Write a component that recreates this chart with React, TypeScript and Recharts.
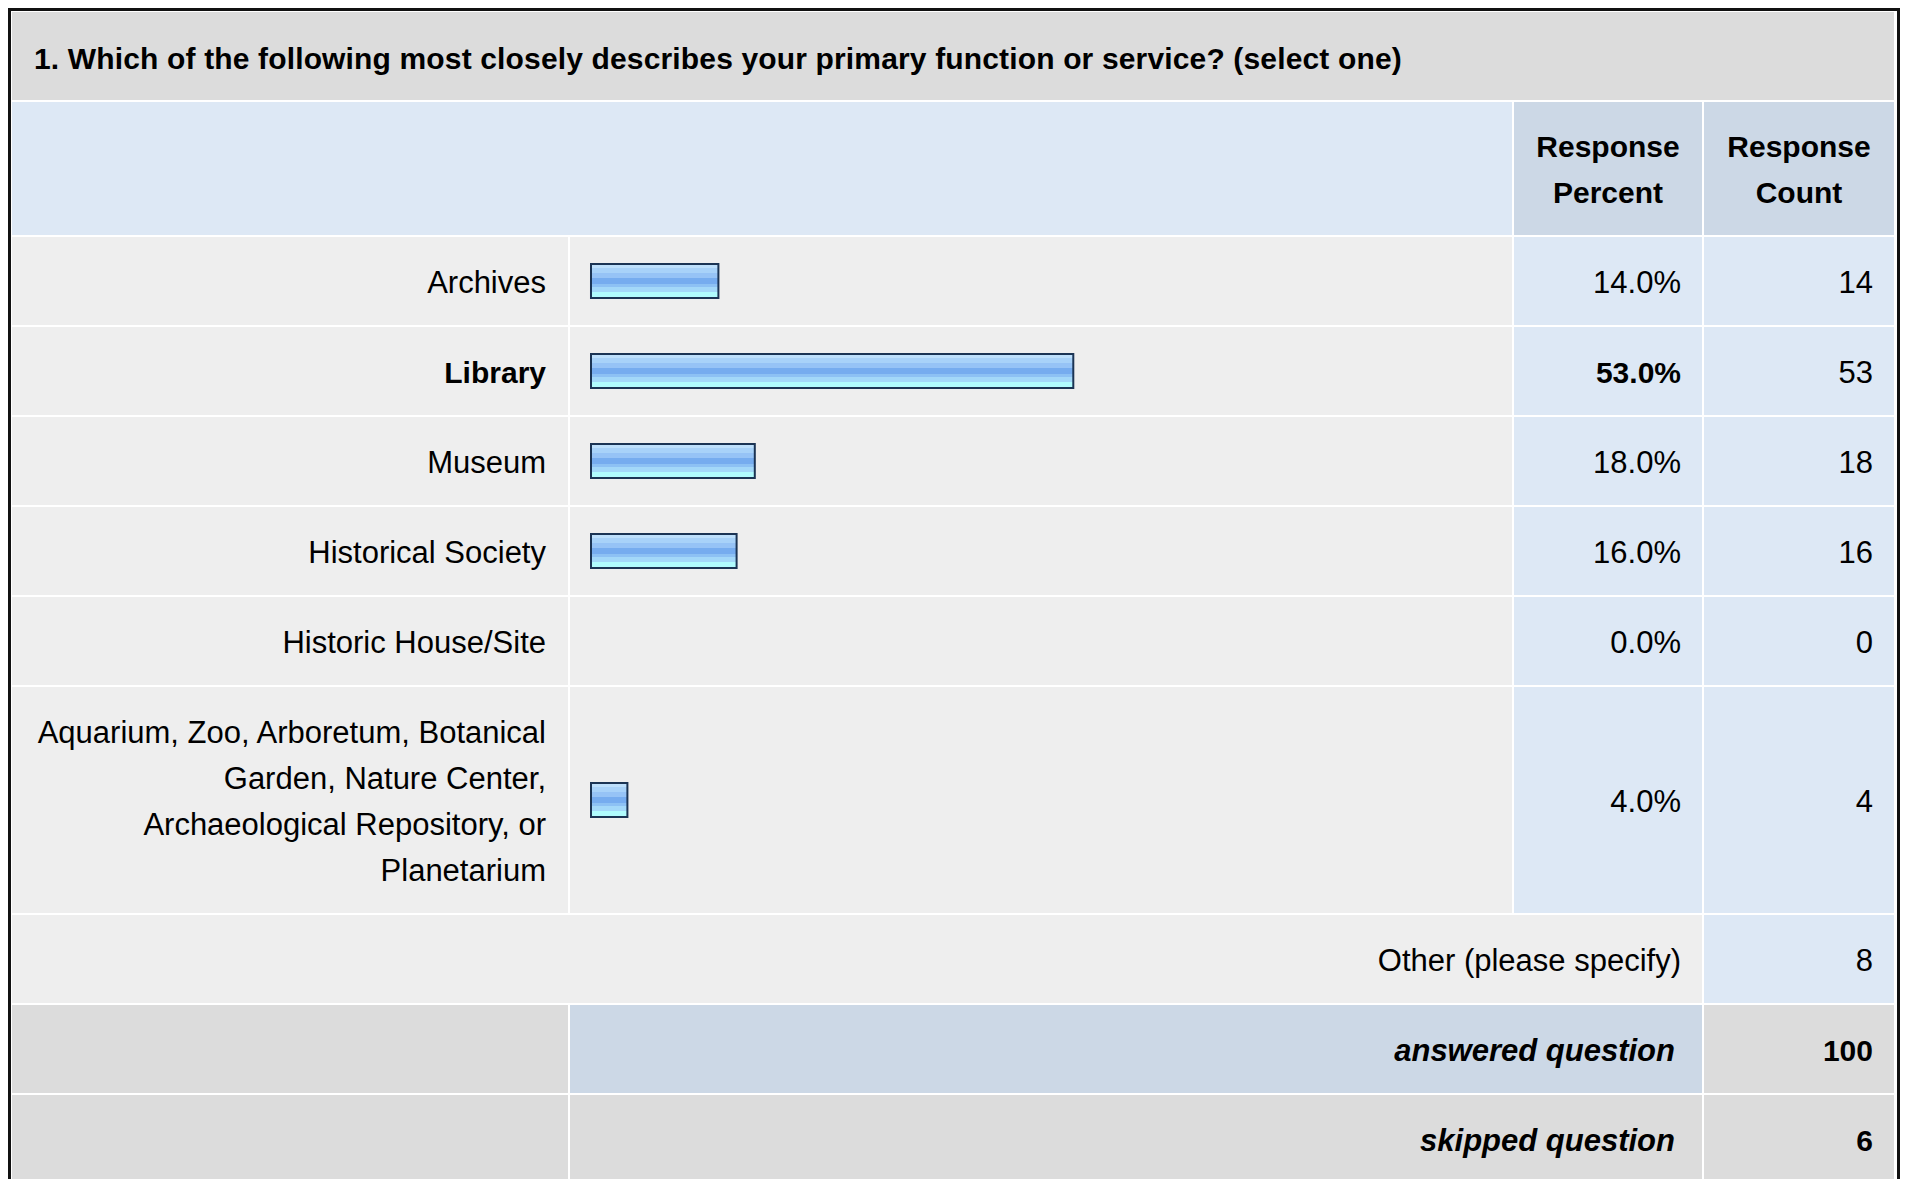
import React from "react";
import { BarChart, Bar, XAxis, YAxis } from "recharts";

const title = "1. Which of the following most closely describes your primary function or service? (select one)";
const headerPercent = ["Response", "Percent"];
const headerCount = ["Response", "Count"];
const categories = [
  "Archives",
  "Library",
  "Museum",
  "Historical Society",
  "Historic House/Site",
  "Aquarium, Zoo, Arboretum, Botanical Garden, Nature Center, Archaeological Repository, or Planetarium",
];
const categoryLines = [
  ["Archives"],
  ["Library"],
  ["Museum"],
  ["Historical Society"],
  ["Historic House/Site"],
  ["Aquarium, Zoo, Arboretum, Botanical", "Garden, Nature Center,", "Archaeological Repository, or", "Planetarium"],
];
const percents = [14.0, 53.0, 18.0, 16.0, 0.0, 4.0];
const counts = [14, 53, 18, 16, 0, 4];
const otherLabel = "Other (please specify)";
const otherCount = 8;
const answeredLabel = "answered question";
const answeredCount = 100;
const skippedLabel = "skipped question";
const skippedCount = 6;

const FONT = "'Liberation Sans', Arial, Helvetica, sans-serif";

// layout (relative to inner box)
const L0 = 1, L1 = 557;
const B0 = 559, B1 = 1501;
const P0 = 1503, P1 = 1691;
const C0 = 1693, C1 = 1883;
const GAP = 2;
const TITLE_TOP = 1, TITLE_H = 88;
const HEAD_TOP = 91, HEAD_H = 133;
const ROW_TOP = 226;
const rowHeights = [88, 88, 88, 88, 88, 226];
const ROW_H = 88;

const C_TITLE = "#dcdcdc";
const C_HEAD = "#dde8f5";
const C_HEAD_DARK = "#ccd8e6";
const C_ROW = "#eeeeee";
const C_ROW_VAL = "#dde8f5";
const C_GRAY = "#dcdcdc";

const REG = 31;
const BOLD = 30;

type CellProps = {
  x0: number; x1: number; y: number; h: number; bg: string;
  align?: "left" | "right" | "center"; pr?: number; pl?: number; dy?: number;
  children?: React.ReactNode; style?: React.CSSProperties;
};

function Cell({ x0, x1, y, h, bg, align = "right", pr = 0, pl = 0, dy = 4, children, style }: CellProps) {
  return (
    <div
      style={{
        position: "absolute",
        left: x0,
        top: y,
        width: x1 - x0,
        height: h,
        background: bg,
        display: "flex",
        alignItems: "center",
        justifyContent: align === "right" ? "flex-end" : align === "center" ? "center" : "flex-start",
        paddingRight: pr,
        paddingLeft: pl,
        paddingTop: dy,
        boxSizing: "border-box",
        textAlign: align,
        ...style,
      }}
    >
      {children}
    </div>
  );
}

function RowBar({ idx, value, height }: { idx: number; value: number; height: number }) {
  const data = [{ name: categories[idx], value }];
  const gid = `barGrad${idx}`;
  return (
    <BarChart
      width={B1 - B0}
      height={height}
      data={data}
      layout="vertical"
      margin={{ top: 0, bottom: 0, left: 21, right: 11 }}
    >
      <defs>
        <linearGradient id={gid} x1="0" y1="0" x2="0" y2="1">
          <stop offset="0%" stopColor="#bddffb" />
          <stop offset="13%" stopColor="#bddffb" />
          <stop offset="13%" stopColor="#a8d2f9" />
          <stop offset="26%" stopColor="#a8d2f9" />
          <stop offset="26%" stopColor="#96c3f6" />
          <stop offset="40%" stopColor="#96c3f6" />
          <stop offset="40%" stopColor="#76acef" />
          <stop offset="58%" stopColor="#76acef" />
          <stop offset="58%" stopColor="#8dc1f4" />
          <stop offset="68%" stopColor="#8dc1f4" />
          <stop offset="68%" stopColor="#a3d8f9" />
          <stop offset="82%" stopColor="#a3d8f9" />
          <stop offset="82%" stopColor="#b0fbfd" />
          <stop offset="100%" stopColor="#b0fbfd" />
        </linearGradient>
      </defs>
      <XAxis type="number" domain={[0, 100]} hide />
      <YAxis type="category" dataKey="name" hide />
      <Bar
        dataKey="value"
        barSize={34}
        fill={`url(#${gid})`}
        stroke="#1b3454"
        strokeWidth={2}
        isAnimationActive={false}
      />
    </BarChart>
  );
}

export default function App() {
  const maxVal = Math.max(...percents);
  const rowTops: number[] = [];
  let y = ROW_TOP;
  for (const h of rowHeights) {
    rowTops.push(y);
    y += h + GAP;
  }
  const otherTop = y;
  const answeredTop = otherTop + ROW_H + GAP;
  const skippedTop = answeredTop + ROW_H + GAP;
  const innerH = skippedTop + ROW_H + 1;

  const bold: React.CSSProperties = { fontWeight: "bold", fontSize: BOLD };
  const boldItalic: React.CSSProperties = { fontWeight: "bold", fontStyle: "italic", fontSize: 31 };

  return (
    <div
      style={{
        position: "relative",
        width: 1892,
        height: innerH + 6,
        border: "3px solid #111",
        boxSizing: "border-box",
        background: "#fff",
        fontFamily: FONT,
        fontSize: REG,
        color: "#000",
        lineHeight: "46px",
      }}
    >
      <Cell x0={L0} x1={C1} y={TITLE_TOP} h={TITLE_H} bg={C_TITLE} align="left" pl={22} dy={5}>
        <span style={{ ...bold, letterSpacing: 0.15 }}>{title}</span>
      </Cell>

      <Cell x0={L0} x1={B1} y={HEAD_TOP} h={HEAD_H} bg={C_HEAD} />
      <Cell x0={P0} x1={P1} y={HEAD_TOP} h={HEAD_H} bg={C_HEAD_DARK} align="center" dy={3}>
        <div style={{ ...bold, textAlign: "center" }}>
          {headerPercent[0]}
          <br />
          {headerPercent[1]}
        </div>
      </Cell>
      <Cell x0={C0} x1={C1} y={HEAD_TOP} h={HEAD_H} bg={C_HEAD_DARK} align="center" dy={3}>
        <div style={{ ...bold, textAlign: "center" }}>
          {headerCount[0]}
          <br />
          {headerCount[1]}
        </div>
      </Cell>

      {categories.map((c, i) => {
        const top = rowTops[i];
        const h = rowHeights[i];
        const isMax = percents[i] === maxVal;
        const st: React.CSSProperties = isMax ? bold : {};
        return (
          <React.Fragment key={c}>
            <Cell x0={L0} x1={L1} y={top} h={h} bg={C_ROW} pr={22}>
              <div style={{ ...st, textAlign: "right", whiteSpace: "nowrap" }}>
                {categoryLines[i].map((ln, k) => (
                  <React.Fragment key={k}>
                    {k > 0 && <br />}
                    {ln}
                  </React.Fragment>
                ))}
              </div>
            </Cell>
            <div
              style={{
                position: "absolute",
                left: B0,
                top,
                width: B1 - B0,
                height: h,
                background: C_ROW,
              }}
            >
              <RowBar idx={i} value={percents[i]} height={h} />
            </div>
            <Cell x0={P0} x1={P1} y={top} h={h} bg={C_ROW_VAL} pr={21}>
              <span style={st}>{percents[i].toFixed(1)}%</span>
            </Cell>
            <Cell x0={C0} x1={C1} y={top} h={h} bg={C_ROW_VAL} pr={21}>
              <span>{counts[i]}</span>
            </Cell>
          </React.Fragment>
        );
      })}

      <Cell x0={L0} x1={P1} y={otherTop} h={ROW_H} bg={C_ROW} pr={21}>
        <span>{otherLabel}</span>
      </Cell>
      <Cell x0={C0} x1={C1} y={otherTop} h={ROW_H} bg={C_ROW_VAL} pr={21}>
        <span>{otherCount}</span>
      </Cell>

      <Cell x0={L0} x1={L1} y={answeredTop} h={ROW_H} bg={C_GRAY} />
      <Cell x0={B0} x1={P1} y={answeredTop} h={ROW_H} bg={C_HEAD_DARK} pr={27}>
        <span style={boldItalic}>{answeredLabel}</span>
      </Cell>
      <Cell x0={C0} x1={C1} y={answeredTop} h={ROW_H} bg={C_GRAY} pr={21}>
        <span style={bold}>{answeredCount}</span>
      </Cell>

      <Cell x0={L0} x1={L1} y={skippedTop} h={ROW_H} bg={C_GRAY} />
      <Cell x0={B0} x1={P1} y={skippedTop} h={ROW_H} bg={C_GRAY} pr={27}>
        <span style={boldItalic}>{skippedLabel}</span>
      </Cell>
      <Cell x0={C0} x1={C1} y={skippedTop} h={ROW_H} bg={C_GRAY} pr={21}>
        <span style={bold}>{skippedCount}</span>
      </Cell>
    </div>
  );
}
